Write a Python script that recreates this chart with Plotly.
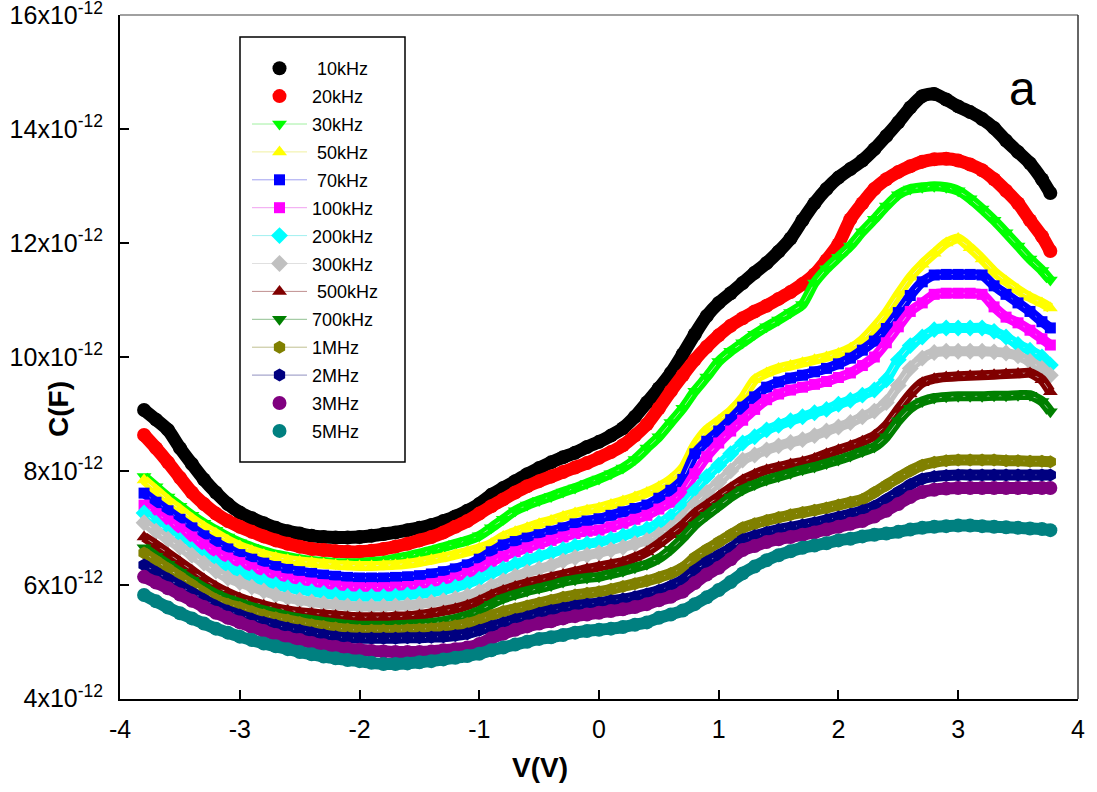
import plotly.graph_objects as go

# Voltage (V)
V = [-3.8, -3.7, -3.6, -3.5, -3.4, -3.3, -3.2, -3.1, -3.0, -2.9,
     -2.8, -2.7, -2.6, -2.5, -2.4, -2.3, -2.2, -2.1, -2.0, -1.9,
     -1.8, -1.7, -1.6, -1.5, -1.4, -1.3, -1.2, -1.1, -1.0, -0.9,
     -0.8, -0.7, -0.6, -0.5, -0.4, -0.3, -0.2, -0.1, 0.0, 0.1,
     0.2, 0.3, 0.4, 0.5, 0.6, 0.7, 0.8, 0.9, 1.0, 1.1,
     1.2, 1.3, 1.4, 1.5, 1.6, 1.7, 1.8, 1.9, 2.0, 2.1,
     2.2, 2.3, 2.4, 2.5, 2.6, 2.7, 2.8, 2.9, 3.0, 3.1,
     3.2, 3.3, 3.4, 3.5, 3.6, 3.7, 3.77]

# Capacitance values in pF (x 1e-12 F)
c_10k = [9.07, 8.90, 8.72, 8.40, 8.12, 7.85, 7.62, 7.42, 7.27, 7.17,
         7.08, 7.00, 6.94, 6.90, 6.86, 6.84, 6.83, 6.83, 6.84, 6.86,
         6.89, 6.92, 6.96, 7.00, 7.05, 7.12, 7.20, 7.30, 7.42, 7.58,
         7.70, 7.82, 7.94, 8.05, 8.15, 8.24, 8.32, 8.42, 8.51, 8.62,
         8.75, 8.95, 9.20, 9.45, 9.72, 10.05, 10.40, 10.72, 10.95, 11.12,
         11.30, 11.48, 11.65, 11.85, 12.08, 12.40, 12.70, 12.95, 13.15, 13.30,
         13.45, 13.65, 13.88, 14.12, 14.38, 14.58, 14.62, 14.52, 14.40, 14.30,
         14.18, 14.02, 13.80, 13.60, 13.40, 13.12, 12.88]
c_20k = [8.63, 8.40, 8.15, 7.88, 7.62, 7.42, 7.25, 7.12, 7.02, 6.93,
         6.85, 6.78, 6.72, 6.67, 6.63, 6.61, 6.59, 6.58, 6.58, 6.60,
         6.63, 6.67, 6.72, 6.78, 6.84, 6.92, 7.02, 7.12, 7.25, 7.38,
         7.50, 7.62, 7.73, 7.82, 7.90, 7.98, 8.06, 8.14, 8.23, 8.33,
         8.45, 8.62, 8.82, 9.10, 9.40, 9.68, 9.95, 10.18, 10.38, 10.55,
         10.68, 10.80, 10.90, 11.02, 11.14, 11.28, 11.45, 11.70, 11.98, 12.42,
         12.70, 12.95, 13.12, 13.25, 13.35, 13.43, 13.47, 13.48, 13.45, 13.38,
         13.28, 13.12, 12.92, 12.70, 12.40, 12.12, 11.86]
c_30k = [7.90, 7.72, 7.54, 7.38, 7.22, 7.08, 6.96, 6.84, 6.74, 6.66,
         6.59, 6.53, 6.49, 6.45, 6.42, 6.40, 6.38, 6.38, 6.38, 6.40,
         6.42, 6.46, 6.50, 6.55, 6.60, 6.66, 6.72, 6.78, 6.86, 7.00,
         7.15, 7.30, 7.40, 7.48, 7.55, 7.63, 7.70, 7.78, 7.86, 7.95,
         8.05, 8.20, 8.40, 8.60, 8.85, 9.10, 9.40, 9.65, 9.92, 10.10,
         10.25, 10.40, 10.53, 10.65, 10.78, 10.92, 11.30, 11.55, 11.75, 11.95,
         12.20, 12.42, 12.65, 12.85, 12.95, 12.98, 13.00, 12.98, 12.92, 12.78,
         12.60, 12.40, 12.18, 11.95, 11.72, 11.52, 11.35]
c_50k = [7.84, 7.66, 7.48, 7.32, 7.16, 7.02, 6.90, 6.78, 6.68, 6.60,
         6.53, 6.48, 6.44, 6.41, 6.39, 6.37, 6.35, 6.34, 6.33, 6.33,
         6.34, 6.35, 6.37, 6.40, 6.44, 6.48, 6.53, 6.58, 6.64, 6.72,
         6.85, 6.93, 7.00, 7.07, 7.13, 7.20, 7.26, 7.31, 7.35, 7.41,
         7.47, 7.54, 7.62, 7.72, 7.85, 8.05, 8.45, 8.72, 8.88, 9.05,
         9.28, 9.60, 9.72, 9.80, 9.85, 9.90, 9.95, 10.00, 10.06, 10.15,
         10.30, 10.52, 10.78, 11.10, 11.40, 11.63, 11.82, 12.00, 12.08, 11.92,
         11.72, 11.50, 11.33, 11.18, 11.05, 10.95, 10.86]
c_70k = [7.61, 7.45, 7.30, 7.15, 7.00, 6.86, 6.74, 6.63, 6.53, 6.45,
         6.38, 6.32, 6.27, 6.23, 6.20, 6.17, 6.15, 6.13, 6.12, 6.12,
         6.12, 6.13, 6.14, 6.16, 6.19, 6.23, 6.28, 6.35, 6.45, 6.58,
         6.70, 6.76, 6.82, 6.88, 6.94, 7.00, 7.07, 7.12, 7.16, 7.22,
         7.28, 7.34, 7.40, 7.52, 7.66, 7.85, 8.30, 8.52, 8.70, 8.90,
         9.12, 9.30, 9.47, 9.56, 9.63, 9.68, 9.74, 9.80, 9.88, 9.98,
         10.12, 10.28, 10.50, 10.78, 11.08, 11.32, 11.44, 11.45, 11.45, 11.45,
         11.44, 11.25, 11.10, 10.95, 10.80, 10.62, 10.51]
c_100k = [7.40, 7.25, 7.12, 6.98, 6.84, 6.70, 6.57, 6.47, 6.39, 6.30,
          6.22, 6.15, 6.10, 6.06, 6.03, 6.00, 5.98, 5.96, 5.95, 5.95,
          5.95, 5.96, 5.97, 5.99, 6.02, 6.06, 6.12, 6.20, 6.28, 6.40,
          6.50, 6.58, 6.65, 6.72, 6.78, 6.84, 6.90, 6.94, 6.96, 7.02,
          7.08, 7.15, 7.22, 7.33, 7.45, 7.62, 7.95, 8.25, 8.49, 8.70,
          8.89, 9.08, 9.25, 9.35, 9.42, 9.47, 9.52, 9.57, 9.64, 9.72,
          9.85, 10.00, 10.25, 10.53, 10.80, 10.95, 11.10, 11.12, 11.12, 11.12,
          11.10, 10.88, 10.70, 10.60, 10.47, 10.32, 10.21]
c_200k = [7.26, 7.08, 6.92, 6.78, 6.62, 6.49, 6.38, 6.29, 6.21, 6.13,
          6.06, 6.00, 5.95, 5.91, 5.88, 5.85, 5.82, 5.80, 5.79, 5.79,
          5.79, 5.80, 5.82, 5.84, 5.87, 5.91, 5.96, 6.02, 6.10, 6.20,
          6.28, 6.36, 6.43, 6.50, 6.56, 6.62, 6.68, 6.72, 6.75, 6.80,
          6.86, 6.92, 6.98, 7.08, 7.20, 7.38, 7.65, 7.90, 8.10, 8.30,
          8.49, 8.60, 8.72, 8.80, 8.88, 8.95, 9.02, 9.08, 9.17, 9.24,
          9.33, 9.42, 9.60, 9.95, 10.20, 10.35, 10.48, 10.51, 10.51, 10.51,
          10.51, 10.45, 10.35, 10.22, 10.12, 10.00, 9.86]
c_300k = [7.09, 6.94, 6.80, 6.66, 6.52, 6.38, 6.24, 6.12, 6.04, 5.96,
          5.89, 5.82, 5.77, 5.73, 5.70, 5.67, 5.65, 5.63, 5.62, 5.62,
          5.62, 5.63, 5.64, 5.66, 5.69, 5.72, 5.76, 5.81, 5.88, 5.98,
          6.07, 6.15, 6.22, 6.28, 6.34, 6.42, 6.48, 6.52, 6.56, 6.61,
          6.66, 6.72, 6.78, 6.88, 7.00, 7.18, 7.42, 7.62, 7.80, 8.00,
          8.19, 8.28, 8.37, 8.44, 8.50, 8.55, 8.62, 8.70, 8.77, 8.85,
          8.95, 9.05, 9.20, 9.50, 9.80, 9.98, 10.08, 10.10, 10.10, 10.10,
          10.10, 10.09, 10.07, 10.02, 9.92, 9.80, 9.68]
c_500k = [6.84, 6.70, 6.55, 6.40, 6.25, 6.10, 5.97, 5.86, 5.77, 5.70,
          5.64, 5.59, 5.55, 5.52, 5.50, 5.48, 5.46, 5.44, 5.43, 5.43,
          5.43, 5.44, 5.45, 5.47, 5.50, 5.54, 5.58, 5.64, 5.72, 5.82,
          5.90, 5.97, 6.03, 6.08, 6.13, 6.18, 6.23, 6.28, 6.32, 6.36,
          6.40, 6.48, 6.58, 6.72, 6.88, 7.05, 7.25, 7.40, 7.55, 7.70,
          7.84, 7.94, 8.02, 8.07, 8.12, 8.16, 8.22, 8.30, 8.37, 8.44,
          8.52, 8.62, 8.80, 9.08, 9.35, 9.55, 9.62, 9.65, 9.66, 9.67,
          9.68, 9.69, 9.70, 9.71, 9.72, 9.60, 9.39]
c_700k = [6.65, 6.50, 6.36, 6.22, 6.08, 5.95, 5.84, 5.75, 5.68, 5.61,
          5.55, 5.50, 5.45, 5.41, 5.38, 5.35, 5.32, 5.30, 5.28, 5.28,
          5.28, 5.29, 5.30, 5.31, 5.33, 5.36, 5.40, 5.46, 5.54, 5.66,
          5.76, 5.83, 5.89, 5.94, 5.99, 6.05, 6.09, 6.12, 6.14, 6.19,
          6.24, 6.30, 6.36, 6.46, 6.62, 6.82, 7.05, 7.22, 7.38, 7.54,
          7.67, 7.76, 7.84, 7.90, 7.96, 8.02, 8.07, 8.13, 8.19, 8.26,
          8.34, 8.42, 8.60, 8.88, 9.10, 9.22, 9.28, 9.30, 9.31, 9.31,
          9.31, 9.32, 9.32, 9.33, 9.33, 9.22, 9.04]
c_1M = [6.56, 6.42, 6.28, 6.14, 6.00, 5.86, 5.74, 5.66, 5.60, 5.53,
        5.47, 5.42, 5.38, 5.34, 5.30, 5.27, 5.24, 5.22, 5.20, 5.20,
        5.20, 5.20, 5.21, 5.22, 5.23, 5.25, 5.28, 5.32, 5.38, 5.46,
        5.53, 5.58, 5.63, 5.68, 5.73, 5.78, 5.82, 5.85, 5.88, 5.92,
        5.97, 6.02, 6.07, 6.13, 6.20, 6.30, 6.48, 6.62, 6.75, 6.88,
        7.00, 7.07, 7.13, 7.18, 7.23, 7.27, 7.31, 7.35, 7.40, 7.45,
        7.50, 7.62, 7.75, 7.88, 8.00, 8.10, 8.15, 8.18, 8.19, 8.19,
        8.19, 8.19, 8.18, 8.18, 8.17, 8.17, 8.16]
c_2M = [6.35, 6.22, 6.10, 5.98, 5.86, 5.74, 5.63, 5.54, 5.47, 5.40,
        5.34, 5.29, 5.24, 5.20, 5.16, 5.12, 5.09, 5.07, 5.06, 5.06,
        5.06, 5.06, 5.07, 5.07, 5.08, 5.09, 5.11, 5.14, 5.20, 5.27,
        5.33, 5.39, 5.44, 5.50, 5.55, 5.59, 5.63, 5.66, 5.68, 5.72,
        5.75, 5.79, 5.84, 5.90, 5.98, 6.08, 6.25, 6.40, 6.52, 6.64,
        6.79, 6.86, 6.92, 6.97, 7.01, 7.05, 7.09, 7.14, 7.19, 7.24,
        7.30, 7.38, 7.50, 7.63, 7.76, 7.86, 7.90, 7.92, 7.93, 7.93,
        7.93, 7.93, 7.93, 7.93, 7.93, 7.93, 7.93]
c_3M = [6.14, 6.04, 5.94, 5.83, 5.72, 5.61, 5.51, 5.42, 5.34, 5.26,
        5.19, 5.12, 5.07, 5.03, 4.98, 4.94, 4.91, 4.88, 4.86, 4.84,
        4.83, 4.82, 4.82, 4.82, 4.83, 4.85, 4.87, 4.90, 4.96, 5.06,
        5.14, 5.21, 5.27, 5.32, 5.36, 5.41, 5.45, 5.48, 5.51, 5.54,
        5.57, 5.61, 5.66, 5.73, 5.79, 5.88, 6.03, 6.18, 6.30, 6.45,
        6.61, 6.68, 6.75, 6.80, 6.84, 6.88, 6.92, 6.97, 7.02, 7.07,
        7.12, 7.20, 7.30, 7.42, 7.54, 7.63, 7.67, 7.69, 7.70, 7.70,
        7.70, 7.70, 7.70, 7.70, 7.70, 7.70, 7.70]
c_5M = [5.82, 5.71, 5.60, 5.50, 5.41, 5.32, 5.23, 5.16, 5.09, 5.03,
        4.97, 4.92, 4.87, 4.82, 4.78, 4.74, 4.71, 4.68, 4.66, 4.63,
        4.61, 4.61, 4.62, 4.64, 4.66, 4.69, 4.72, 4.75, 4.79, 4.85,
        4.90, 4.95, 5.00, 5.05, 5.08, 5.12, 5.16, 5.19, 5.21, 5.23,
        5.26, 5.30, 5.34, 5.42, 5.48, 5.55, 5.66, 5.78, 5.91, 6.05,
        6.20, 6.32, 6.43, 6.52, 6.59, 6.65, 6.69, 6.73, 6.78, 6.81,
        6.85, 6.88, 6.90, 6.93, 6.97, 7.00, 7.02, 7.03, 7.04, 7.04,
        7.03, 7.02, 7.01, 7.00, 6.99, 6.98, 6.96]

names = ["\u00a010kHz", "20kHz", "30kHz", "\u00a050kHz", "\u00a070kHz", "100kHz", "200kHz",
         "300kHz", "\u00a0500kHz", "700kHz", "1MHz", "2MHz", "3MHz", "5MHz"]
series = [c_10k, c_20k, c_30k, c_50k, c_70k, c_100k, c_200k,
          c_300k, c_500k, c_700k, c_1M, c_2M, c_3M, c_5M]
colors = ["#000000", "#ff0000", "#00ff00", "#ffff00", "#0000ff", "#ff00ff", "#00ffff",
          "#c0c0c0", "#800000", "#008000", "#808000", "#000080", "#800080", "#008080"]
legend_lines = ["rgba(0,0,0,0)", "rgba(0,0,0,0)", "#a0f0a0", "#f0f0a0", "#a0a0f0", "#f0a0f0",
                "#a0f0f0", "#e0e0e0", "#c09090", "#90c090", "#c0c090", "#9090c0", "#c090c0", "#90c0c0"]
legend_line_on = [False, False, True, True, True, True, True, True, True, True, True, True, False, False]
symbols = ["circle", "circle", "triangle-down", "triangle-up", "square", "square", "diamond",
           "diamond", "triangle-up", "triangle-down", "hexagon", "hexagon", "circle", "circle"]
sizes = [14, 14, 13, 13, 11, 11, 13, 13, 13, 13, 13, 13, 14, 14]
band_w = [13, 13, 10, 10, 10, 10, 10, 10, 10, 10, 11, 11, 12, 12]

fig = go.Figure()
for i in range(len(series)):
    yv = [v * 1e-12 for v in series[i]]
    fig.add_trace(go.Scatter(
        x=V, y=yv, mode="lines", showlegend=False, legendgroup="g%d" % i,
        line=dict(color=colors[i], width=band_w[i], shape="spline", smoothing=0.6),
        hoverinfo="skip",
    ))
    fig.add_trace(go.Scatter(
        x=V, y=yv, mode="lines+markers" if legend_line_on[i] else "markers",
        name=names[i], legendgroup="g%d" % i,
        line=dict(color=legend_lines[i], width=1),
        marker=dict(color=colors[i], symbol=symbols[i], size=sizes[i], line=dict(width=0)),
    ))

ytick_vals = [4e-12, 6e-12, 8e-12, 10e-12, 12e-12, 14e-12, 16e-12]
ytick_text = ["4x10<sup>-12</sup>", "6x10<sup>-12</sup>", "8x10<sup>-12</sup>", "10x10<sup>-12</sup>",
              "12x10<sup>-12</sup>", "14x10<sup>-12</sup>", "16x10<sup>-12</sup>"]
xtick_vals = [-4, -3, -2, -1, 0, 1, 2, 3, 4]
xtick_text = ["-4", "-3", "-2", "-1", "0", "1", "2", "3", "4"]

L, R, T, B = 120, 1078, 15, 699
W, H = 1097, 792
PW, PH = R - L, B - T

def px(xp):
    return (xp - L) / PW

def py(yp):
    return (B - yp) / PH

font_family = "Liberation Sans, Arial, sans-serif"

fig.update_layout(
    width=W, height=H,
    margin=dict(l=L, r=W - R, t=T, b=H - B, pad=0),
    paper_bgcolor="white", plot_bgcolor="white",
    font=dict(family=font_family, color="black"),
    showlegend=True,
    legend=dict(
        x=px(247), y=py(50), xanchor="left", yanchor="top",
        bgcolor="rgba(0,0,0,0)", borderwidth=0,
        font=dict(size=18, family=font_family, color="black"),
        tracegroupgap=1.5, itemwidth=55, itemclick=False,
    ),
    xaxis=dict(
        range=[-4.001, 4.001], tickvals=xtick_vals, ticktext=xtick_text,
        ticks="inside", ticklen=9, tickwidth=1.5,
        tickcolor="black", showline=True, linecolor="black", linewidth=2,
        showgrid=False, zeroline=False, automargin=False, ticklabeloverflow="allow",
        tickfont=dict(size=25, family=font_family), ticklabelstandoff=7,
    ),
    yaxis=dict(
        range=[3.995e-12, 16.005e-12], tickvals=ytick_vals, ticktext=ytick_text,
        ticks="inside", ticklen=9, tickwidth=1.5, tickcolor="black",
        showline=True, linecolor="black", linewidth=2,
        showgrid=False, zeroline=False, automargin=False, ticklabeloverflow="allow",
        tickfont=dict(size=25, family=font_family), ticklabelstandoff=10,
    ),
    shapes=[
        dict(type="line", xref="paper", yref="paper", x0=0, x1=1, y0=1, y1=1,
             line=dict(color="#808080", width=1.5)),
        dict(type="line", xref="paper", yref="paper", x0=1, x1=1, y0=0, y1=1,
             line=dict(color="#333333", width=1.5)),
        dict(type="rect", xref="paper", yref="paper",
             x0=px(240), x1=px(405), y0=py(462), y1=py(37),
             line=dict(color="black", width=1.5), fillcolor="rgba(0,0,0,0)"),
    ],
    annotations=[
        dict(text="a", xref="paper", yref="paper", x=px(1022), y=py(88),
             xanchor="center", yanchor="middle",
             showarrow=False, font=dict(size=48, family=font_family, color="black")),
        dict(text="<b>V(V)</b>", xref="paper", yref="paper", x=px(540), y=py(767),
             xanchor="center", yanchor="middle",
             showarrow=False, font=dict(size=28, family=font_family, color="black")),
        dict(text="<b>C(F)</b>", xref="paper", yref="paper", x=px(59), y=py(409),
             xanchor="center", yanchor="middle", textangle=-90,
             showarrow=False, font=dict(size=28, family=font_family, color="black")),
    ],
)

fig.write_html("out.html", config={"displayModeBar": False},
               post_script="document.body.style.margin='0px';")
